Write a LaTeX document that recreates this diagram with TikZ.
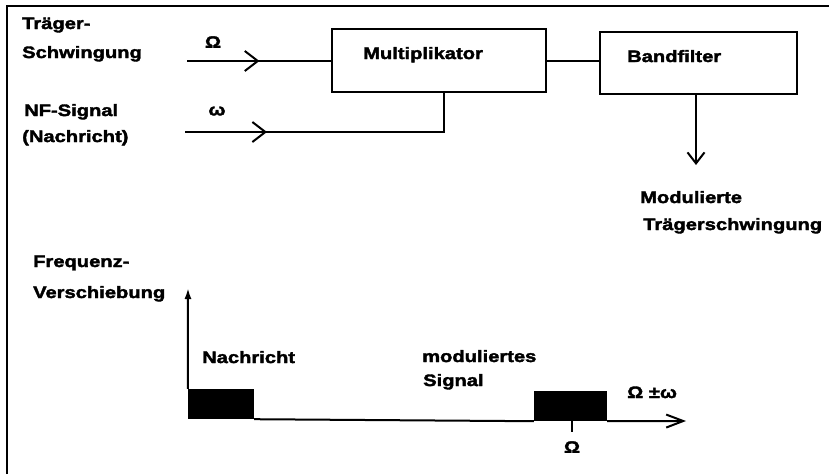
\documentclass[tikz,border=0pt]{standalone}
\usepackage{fontspec}
\setmainfont{Liberation Sans}[FakeStretch=1.22, BoldFeatures={FakeBold=2.2}]
\usetikzlibrary{arrows.meta,decorations.markings}
\begin{document}
\begin{tikzpicture}[x=1pt,y=-1pt,
  lbl/.style={font=\fontsize{16.5}{19}\selectfont\bfseries, inner sep=0pt, anchor=base west},
  sym/.style={font=\fontsize{16.5}{19}\selectfont\bfseries, inner sep=0pt},
  blk/.style={draw, line width=2pt, inner sep=0pt},
  ln/.style={line width=2pt},
  bar/.style={fill=black, inner sep=0pt},
  chev/.style={postaction={decorate}, decoration={markings, mark=at position #1 with {\arrow{Straight Barb[length=13pt,width=20pt,line width=2pt]}}}},
]
\useasboundingbox (0,0) rectangle (829,474);
% frame
\coordinate (fbl) at (7,474);
\coordinate (ftl) at (7,6);
\coordinate (ftr) at (829,6);
\draw[ln] (fbl) -- (ftl) -- (ftr);

% blocks
\node[blk, minimum width=214pt, minimum height=63pt] (mult) at (439,60.5) {};
\node[lbl] (multt) at (363,59) {Multiplikator};
\node[blk, minimum width=197pt, minimum height=62pt] (band) at (698.5,63) {};
\node[lbl] (bandt) at (627,62) {Bandfilter};
\draw[ln] (mult.east) -- (mult.east -| band.west);

% inputs
\node[lbl] (tr1) at (22,29) {Träger-};
\node[lbl] (tr2) at (22,58) {Schwingung};
\node[lbl] (nf1) at (24,116) {NF-Signal};
\node[lbl] (nf2) at (22,142) {(Nachricht)};
\node[sym] (Om) at (213,42) {Ω};
\node[sym] (om) at (217,111) {ω};

\coordinate (cin) at (187,61);
\draw[ln, chev=0.503] (cin) -- (cin -| mult.west);
\coordinate (nin) at (185,132);
\coordinate (nc) at (444,132);
\draw[ln, chev=82pt] (nin) -- (nc) -- (nc |- mult.south);

% output
\coordinate (out) at (696,165);
\draw[ln, -{Straight Barb[length=11pt,width=17pt]}] (band.south -| out) -- (out);
\node[lbl] (mo1) at (640,203) {Modulierte};
\node[lbl] (mo2) at (643,230) {Trägerschwingung};

% spectrum
\node[lbl] (fv1) at (33,267) {Frequenz-};
\node[lbl] (fv2) at (33,298) {Verschiebung};
\node[bar, minimum width=66pt, minimum height=30pt] (nbox) at (221,404) {};
\node[bar, minimum width=73pt, minimum height=30pt] (mbox) at (570.5,406) {};
\coordinate (ytip) at (188,288);
\draw[ln, -{Latex[length=11pt,width=7pt]}] (nbox.north west) -- (ytip);
\coordinate (xtip) at (686,421);
\draw[ln] (nbox.south east) -- (mbox.south west);
\draw[ln, -{Straight Barb[length=17pt,width=13pt]}] (mbox.south east) -- (xtip);
\coordinate (tk) at (572,432);
\draw[line width=1.4pt] (tk |- mbox.south) -- (tk);
\node[sym] (Omt) at (572,447) {Ω};
\node[lbl] (pm) at (627,398) {Ω ±ω};
\node[lbl] (na) at (202,363) {Nachricht};
\node[lbl] (ms1) at (422,362) {moduliertes};
\node[lbl] (ms2) at (423,386) {Signal};
\end{tikzpicture}
\end{document}
